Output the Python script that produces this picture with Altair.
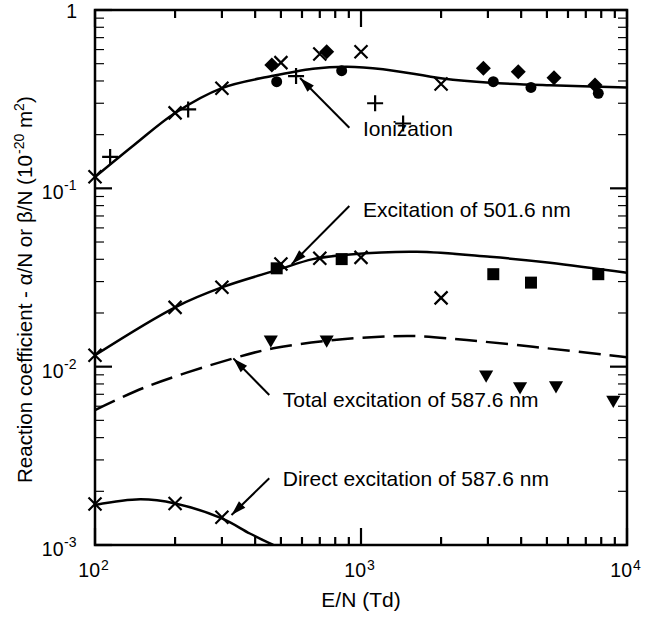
import altair as alt
import pandas as pd

# ---------------------------------------------------------------------------
# Data: reaction coefficients (10^-20 m^2) versus E/N (Td)
# ---------------------------------------------------------------------------

# Ionization coefficient alpha/N
ion_curve_E = [100, 141, 200, 300, 462, 660, 886, 1210, 2028, 3053, 5134, 10000]
ion_curve_k = [0.1157, 0.176, 0.2645, 0.365, 0.426, 0.469, 0.481, 0.466, 0.413, 0.391, 0.378, 0.368]

ion_cross_E = [100, 200, 300, 500, 700, 1000, 2000]
ion_cross_k = [0.116, 0.265, 0.364, 0.507, 0.567, 0.584, 0.385]
ion_plus_E = [114, 224, 570, 1130, 1440]
ion_plus_k = [0.150, 0.277, 0.426, 0.300, 0.231]
ion_diamond_E = [462, 743, 2884, 3900, 5316, 7580]
ion_diamond_k = [0.491, 0.584, 0.471, 0.451, 0.417, 0.380]
ion_circle_E = [482, 846, 3143, 4355, 7800]
ion_circle_k = [0.396, 0.457, 0.396, 0.368, 0.341]

# Excitation coefficient of the 501.6 nm line
exc_curve_E = [100, 201, 303, 483, 660, 909, 1620, 3053, 5134, 10000]
exc_curve_k = [0.0116, 0.0216, 0.0280, 0.0348, 0.0401, 0.0426, 0.0441, 0.0413, 0.0383, 0.0336]

exc_cross_E = [100, 200, 300, 500, 700, 1000, 2000]
exc_cross_k = [0.0116, 0.0215, 0.0279, 0.0376, 0.0405, 0.0410, 0.0243]
exc_square_E = [482, 846, 3143, 4355, 7800]
exc_square_k = [0.0356, 0.0401, 0.0330, 0.0296, 0.0330]

# Total excitation of the 587.6 nm line
tot_curve_E = [100, 156, 331, 468, 743, 1179, 1620, 2497, 4432, 10000]
tot_curve_k = [0.00571, 0.00771, 0.01113, 0.01267, 0.01397, 0.01471, 0.01484, 0.01410, 0.01293, 0.01128]

tot_tri_E = [458, 743, 2954, 3962, 5408, 8880]
tot_tri_k = [0.0138, 0.0138, 0.00878, 0.00755, 0.00766, 0.00635]

# Direct excitation of the 587.6 nm line
dir_curve_E = [100, 148, 200, 300, 382, 468]
dir_curve_k = [0.001675, 0.001803, 0.00171, 0.00141, 0.00116, 0.001]

dir_cross_E = [100, 200, 300]
dir_cross_k = [0.00170, 0.00171, 0.00143]

# Callout labels (text anchored at its left baseline) and their arrows
label_text = ["Ionization", "Excitation of 501.6 nm",
              "Total excitation of 587.6 nm", "Direct excitation of 587.6 nm"]
label_E = [1017, 1017, 508, 508]
label_k = [0.1965, 0.0688, 0.00592, 0.00214]

arrow_tail_E = [904, 904, 452, 452]
arrow_tail_k = [0.2188, 0.0796, 0.00693, 0.002365]
arrow_tip_E = [590, 549, 331, 326]
arrow_tip_k = [0.4154, 0.0376, 0.01113, 0.001472]
arrow_angle = [315, 225, 315, 225]

# Axis ticks and labels
x_major = [100, 1000, 10000]
x_minor = [200, 300, 400, 500, 600, 700, 800, 900,
           2000, 3000, 4000, 5000, 6000, 7000, 8000, 9000]
y_major = [0.001, 0.01, 0.1, 1]
y_minor = [0.002, 0.003, 0.004, 0.005, 0.006, 0.007, 0.008, 0.009,
           0.02, 0.03, 0.04, 0.05, 0.06, 0.07, 0.08, 0.09,
           0.2, 0.3, 0.4, 0.5, 0.6, 0.7, 0.8, 0.9]
x_label_vals = [100, 1000, 10000]
x_label_base = ["10", "10", "10"]
x_label_exp = ["2", "3", "4"]
y_label_vals = [0.001, 0.01, 0.1, 1]
y_label_base = ["10", "10", "10", "1"]
y_label_exp = ["-3", "-2", "-1", ""]

x_title = "E/N (Td)"
y_title_parts = ["Reaction coefficient - \u03b1/N or \u03b2/N (10", "-20", "m", "2", ")"]

# ---------------------------------------------------------------------------
# Chart
# ---------------------------------------------------------------------------
W, H = 532, 535
FONT = "Liberation Sans"
INK = "black"
E_LO, E_HI = 100, 10000
K_LO, K_HI = 0.001, 1
X_DECADE = W / 2      # pixels per decade of E/N
Y_DECADE = H / 3      # pixels per decade of the coefficient

x_scale = alt.Scale(type="log", domain=[E_LO, E_HI], nice=False)
y_scale = alt.Scale(type="log", domain=[K_LO, K_HI], nice=False)


def xq(field):
    return alt.X(f"{field}:Q", scale=x_scale, axis=None)


def yq(field):
    return alt.Y(f"{field}:Q", scale=y_scale, axis=None)


def curve(E, k, dash=None):
    props = dict(color=INK, strokeWidth=2.5, interpolate="catmull-rom", clip=True)
    if dash:
        props["strokeDash"] = dash
    return alt.Chart(pd.DataFrame({"E": E, "k": k})).mark_line(**props).encode(
        x=xq("E"), y=yq("k"))


CROSS = "M-1,-1L1,1M-1,1L1,-1"
PLUS = "M-1,0L1,0M0,-1L0,1"
ARROWHEAD = "M0,0L-0.9,3L0.9,3Z"
BAR_RIGHT = "M0,-0.13L2,-0.13L2,0.13L0,0.13Z"   # a thin filled bar pointing right


def symbols(E, k, shape, size, filled, angle=0):
    if filled:
        mark = alt.MarkDef(type="point", shape=shape, size=size, filled=True,
                           color=INK, opacity=1, angle=angle)
    else:
        mark = alt.MarkDef(type="point", shape=shape, size=size, filled=False,
                           color=INK, opacity=1, strokeWidth=2.2, angle=angle)
    return alt.Chart(pd.DataFrame({"E": E, "k": k}), mark=mark).encode(
        x=xq("E"), y=yq("k"))


# inward ticks along the top and bottom edges: short segments in data space
def x_ticks(values, edge, length):
    step = 10 ** (length / Y_DECADE)
    inner = edge * step if edge == K_LO else edge / step
    df = pd.DataFrame({"E0": values, "E1": values,
                       "k0": [edge] * len(values), "k1": [inner] * len(values)})
    return alt.Chart(df).mark_rule(color=INK, strokeWidth=2.2).encode(
        x=xq("E0"), y=yq("k0"), x2="E1:Q", y2="k1:Q")


# inward ticks along the left and right edges: thin bar symbols on the frame
def y_ticks(values, edge, length):
    angle = 0 if edge == E_LO else 180
    return symbols([edge] * len(values), values, BAR_RIGHT, length ** 2, True, angle)


ticks = [
    x_ticks(x_major, K_LO, 17), x_ticks(x_minor, K_LO, 8),
    x_ticks(x_major, K_HI, 17), x_ticks(x_minor, K_HI, 8),
    y_ticks(y_major, E_LO, 17), y_ticks(y_minor, E_LO, 9),
    y_ticks(y_major, E_HI, 17), y_ticks(y_minor, E_HI, 9),
]

# tick labels: base "10" plus a raised exponent
xl = pd.DataFrame({"v": x_label_vals, "base": x_label_base, "exp": x_label_exp})
x_lab_base = alt.Chart(xl).mark_text(align="right", baseline="alphabetic", dx=5,
                                     font=FONT, fontSize=19.5, color=INK).encode(
    x=xq("v"), y=alt.value(H + 32), text="base:N")
x_lab_exp = alt.Chart(xl).mark_text(align="left", baseline="alphabetic", dx=6,
                                    font=FONT, fontSize=14, color=INK).encode(
    x=xq("v"), y=alt.value(H + 25), text="exp:N")

yl = pd.DataFrame({"v": y_label_vals, "base": y_label_base, "exp": y_label_exp})
y_lab_base = alt.Chart(yl).transform_filter("datum.exp != ''").mark_text(
    align="right", baseline="alphabetic", dy=11, font=FONT, fontSize=19.5,
    color=INK).encode(x=alt.value(-31.5), y=yq("v"), text="base:N")
y_lab_exp = alt.Chart(yl).transform_filter("datum.exp != ''").mark_text(
    align="left", baseline="alphabetic", dy=2, font=FONT, fontSize=14,
    color=INK).encode(x=alt.value(-31), y=yq("v"), text="exp:N")
y_lab_one = alt.Chart(yl).transform_filter("datum.exp == ''").mark_text(
    align="right", baseline="alphabetic", dy=8, font=FONT, fontSize=19.5,
    color=INK).encode(x=alt.value(-18), y=yq("v"), text="base:N")

# axis titles
x_title_layer = alt.Chart(pd.DataFrame({"t": [x_title]})).mark_text(
    align="center", baseline="alphabetic", font=FONT, fontSize=21, color=INK).encode(
    x=alt.value(W / 2), y=alt.value(H + 62), text="t:N")

# the y title is set in pieces so the exponents can be raised
y_piece_size = [20.6, 14, 20.6, 14, 20.6]
y_piece_x = [-63, -71, -63, -71, -63]
y_piece_y = [473, 144, 118.1, 100.9, 93.1]
y_title_layers = []
for txt, fs, px, py in zip(y_title_parts, y_piece_size, y_piece_x, y_piece_y):
    y_title_layers.append(
        alt.Chart(pd.DataFrame({"t": [txt]})).mark_text(
            align="left", baseline="alphabetic", angle=270, font=FONT,
            fontSize=fs, color=INK).encode(
            x=alt.value(px), y=alt.value(py), text="t:N"))

# callouts
labels = alt.Chart(pd.DataFrame({"t": label_text, "E": label_E, "k": label_k})).mark_text(
    align="left", baseline="alphabetic", font=FONT, fontSize=21, color=INK).encode(
    x=xq("E"), y=yq("k"), text="t:N")

arrows_df = pd.DataFrame({"E0": arrow_tail_E, "k0": arrow_tail_k,
                          "E1": arrow_tip_E, "k1": arrow_tip_k, "ang": arrow_angle})
arrow_lines = alt.Chart(arrows_df).mark_rule(color=INK, strokeWidth=2).encode(
    x=xq("E0"), y=yq("k0"), x2="E1:Q", y2="k1:Q")
arrow_heads = alt.Chart(arrows_df).mark_point(
    shape=ARROWHEAD, size=100, filled=True, color=INK, opacity=1).encode(
    x=xq("E1"), y=yq("k1"), angle=alt.Angle("ang:Q", scale=None))

layers = [
    curve(ion_curve_E, ion_curve_k),
    curve(exc_curve_E, exc_curve_k),
    curve(tot_curve_E, tot_curve_k, dash=[22, 9]),
    curve(dir_curve_E, dir_curve_k),
    symbols(ion_cross_E, ion_cross_k, CROSS, 169, False),
    symbols(ion_plus_E, ion_plus_k, PLUS, 256, False),
    symbols(ion_diamond_E, ion_diamond_k, "diamond", 225, True),
    symbols(ion_circle_E, ion_circle_k, "circle", 120, True),
    symbols(exc_cross_E, exc_cross_k, CROSS, 169, False),
    symbols(exc_square_E, exc_square_k, "square", 144, True),
    symbols(tot_tri_E, tot_tri_k, "triangle-down", 200, True),
    symbols(dir_cross_E, dir_cross_k, CROSS, 169, False),
    arrow_lines, arrow_heads, labels,
    x_lab_base, x_lab_exp, y_lab_base, y_lab_exp, y_lab_one,
    x_title_layer,
] + y_title_layers + ticks

chart = alt.layer(*layers).properties(
    width=W, height=H, autosize="none",
    padding={"left": 95, "top": 10, "right": 20, "bottom": 73},
    background="white",
).configure_view(stroke=INK, strokeWidth=2.5)

chart.save("out.html", embed_options={"renderer": "svg", "actions": False})
